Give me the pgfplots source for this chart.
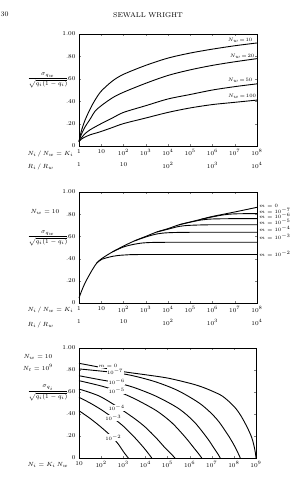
\documentclass[border=0pt]{standalone}
\usepackage{amsmath}
\usepackage{pgfplots}
\pgfplotsset{compat=1.18}
\pgfplotsset{every axis/.append style={
  scale only axis, ymin=0, ymax=1,
  ytick={0,0.2,0.4,0.6,0.8,1}, yticklabels={0,.20,.40,.60,.80,1.00},
  xminorticks=false, major tick length=2bp, 
  tick label style={font=\fontsize{6}{7}\selectfont},
  axis line style={line width=0.8pt},
  cycle list={{black,solid,no markers}},
  clip=false},
  every axis plot post/.append style={line width=0.9pt, smooth, tension=0.5}
}
\begin{document}
\begin{tikzpicture}
\useasboundingbox (0,0) rectangle (297bp,-480bp);
\begin{scope}[x=1bp,y=-1bp]
\node[anchor=west,font=\fontsize{7}{8}\selectfont,inner sep=0.5pt] at (0,14) {30};
\node[font=\fontsize{7}{8}\selectfont] at (148,15) {SEWALL WRIGHT};
\node[font=\fontsize{6.5}{7.5}\selectfont] at (48,80) {$\dfrac{\sigma_{q_w}}{\sqrt{q_i(1-q_i)}}$};
\node[anchor=west,font=\fontsize{6}{7}\selectfont] at (24,154) {$N_i\,/\,N_w = K_i$};
\node[anchor=west,font=\fontsize{6}{7}\selectfont] at (24,167) {$R_i\,/\,R_w$};
\node[font=\fontsize{6}{7}\selectfont] at (45,212) {$N_w = 10$};
\node[font=\fontsize{6.5}{7.5}\selectfont] at (48,238) {$\dfrac{\sigma_{q_w}}{\sqrt{q_i(1-q_i)}}$};
\node[anchor=west,font=\fontsize{6}{7}\selectfont] at (24,310) {$N_i\,/\,N_w = K_i$};
\node[anchor=west,font=\fontsize{6}{7}\selectfont] at (24,325) {$R_i\,/\,R_w$};
\node[font=\fontsize{6}{7}\selectfont] at (38,357) {$N_w = 10$};
\node[font=\fontsize{6}{7}\selectfont] at (38,368) {$N_t = 10^9$};
\node[font=\fontsize{6.5}{7.5}\selectfont] at (48,393) {$\dfrac{\sigma_{q_i}}{\sqrt{q_i(1-q_i)}}$};
\node[anchor=west,font=\fontsize{6}{7}\selectfont] at (24,465) {$N_i = K_i\,N_w$};
\end{scope}
% ---------------- Panel 1
\begin{axis}[xmode=log, at={(79bp,-146bp)}, anchor=south west, width=178bp, height=112bp,
  xmin=1, xmax=1e8,
  xtick={1,10,1e2,1e3,1e4,1e5,1e6,1e7,1e8},
  xticklabels={1,10,$10^2$,$10^3$,$10^4$,$10^5$,$10^6$,$10^7$,$10^8$},
  extra x ticks={1,1e2,1e4,1e6,1e8},
  extra x tick labels={1,10,$10^2$,$10^3$,$10^4$},
  extra x tick style={major tick length=0pt, xticklabel style={yshift=-13bp}}]
\addplot coordinates {(1,0.04)(1.259,0.13)(1.862,0.23)(3.162,0.33)(5.248,0.41)(10,0.49)(31.62,0.58)(100,0.64)(1e3,0.72)(1e4,0.785)(1e5,0.83)(1e6,0.865)(1e7,0.895)(1e8,0.92)};
\addplot coordinates {(1,0.04)(1.259,0.10)(1.862,0.17)(3.162,0.24)(5.248,0.31)(10,0.36)(31.62,0.43)(100,0.48)(1e3,0.56)(1e4,0.63)(1e5,0.68)(1e6,0.72)(1e7,0.752)(1e8,0.78)};
\addplot coordinates {(1,0.04)(1.259,0.07)(1.862,0.11)(3.162,0.145)(5.248,0.17)(10,0.20)(31.62,0.25)(100,0.30)(1e3,0.36)(1e4,0.42)(1e5,0.46)(1e6,0.50)(1e7,0.53)(1e8,0.555)};
\addplot coordinates {(1,0.04)(1.259,0.06)(1.862,0.08)(3.162,0.10)(5.248,0.113)(10,0.13)(31.62,0.165)(100,0.20)(1e3,0.25)(1e4,0.30)(1e5,0.34)(1e6,0.37)(1e7,0.39)(1e8,0.41)};
\node[font=\fontsize{5}{6}\selectfont] at (axis cs:1.74e7,0.945) {$N_w\!=\!10$};
\node[font=\fontsize{5}{6}\selectfont] at (axis cs:2.14e7,0.805) {$N_w\!=\!20$};
\node[font=\fontsize{5}{6}\selectfont] at (axis cs:1.74e7,0.585) {$N_w\!=\!50$};
\node[font=\fontsize{5}{6}\selectfont] at (axis cs:2.14e7,0.445) {$N_w\!=\!100$};
\end{axis}
% ---------------- Panel 2
\begin{axis}[xmode=log, at={(79bp,-303bp)}, anchor=south west, width=178bp, height=111bp,
  xmin=1, xmax=1e8,
  xtick={1,10,1e2,1e3,1e4,1e5,1e6,1e7,1e8},
  xticklabels={1,10,$10^2$,$10^3$,$10^4$,$10^5$,$10^6$,$10^7$,$10^8$},
  extra x ticks={1,1e2,1e4,1e6,1e8},
  extra x tick labels={1,10,$10^2$,$10^3$,$10^4$},
  extra x tick style={major tick length=0pt, xticklabel style={yshift=-13bp}}]
\addplot coordinates {(1,0.045)(1.259,0.10)(1.862,0.18)(3.715,0.29)(6.31,0.36)(10.47,0.40)(31.62,0.46)(117.5,0.52)(316.2,0.56)(1e3,0.60)(3162,0.64)(1e4,0.67)(31620,0.705)(1e5,0.73)(316200,0.755)(1e6,0.78)(3.162e6,0.80)(1e7,0.82)(1e8,0.862)};
\addplot coordinates {(316200,0.755)(1e6,0.776)(3.162e6,0.794)(1e7,0.803)(1e8,0.806)};
\addplot coordinates {(31620,0.705)(1e5,0.728)(316200,0.748)(1e6,0.757)(1e7,0.76)(1e8,0.76)};
\addplot coordinates {(3162,0.64)(1e4,0.665)(31620,0.69)(1e5,0.70)(1e6,0.705)(1e8,0.705)};
\addplot coordinates {(316.2,0.56)(1e3,0.595)(3162,0.622)(1e4,0.633)(1e5,0.637)(1e8,0.637)};
\addplot coordinates {(31.62,0.46)(100,0.505)(316.2,0.53)(1e3,0.543)(1e4,0.547)(1e8,0.547)};
\addplot coordinates {(6.31,0.36)(10.47,0.393)(31.62,0.42)(100,0.432)(1e3,0.437)(1e8,0.437)};
\node[font=\fontsize{5}{6}\selectfont, anchor=west, xshift=2bp, inner sep=0pt] at (axis cs:1e8,0.877) {$m = 0$};
\node[font=\fontsize{5}{6}\selectfont, anchor=west, xshift=2bp, inner sep=0pt] at (axis cs:1e8,0.829) {$m = 10^{-7}$};
\node[font=\fontsize{5}{6}\selectfont, anchor=west, xshift=2bp, inner sep=0pt] at (axis cs:1e8,0.784) {$m = 10^{-6}$};
\node[font=\fontsize{5}{6}\selectfont, anchor=west, xshift=2bp, inner sep=0pt] at (axis cs:1e8,0.735) {$m = 10^{-5}$};
\node[font=\fontsize{5}{6}\selectfont, anchor=west, xshift=2bp, inner sep=0pt] at (axis cs:1e8,0.664) {$m = 10^{-4}$};
\node[font=\fontsize{5}{6}\selectfont, anchor=west, xshift=2bp, inner sep=0pt] at (axis cs:1e8,0.592) {$m = 10^{-3}$};
\node[font=\fontsize{5}{6}\selectfont, anchor=west, xshift=2bp, inner sep=0pt] at (axis cs:1e8,0.439) {$m = 10^{-2}$};
\end{axis}
% ---------------- Panel 3
\begin{axis}[xmode=log, at={(79bp,-458bp)}, anchor=south west, width=177bp, height=110bp,
  xmin=10, xmax=1e9,
  xtick={10,1e2,1e3,1e4,1e5,1e6,1e7,1e8,1e9},
  xticklabels={10,$10^2$,$10^3$,$10^4$,$10^5$,$10^6$,$10^7$,$10^8$,$10^9$}]
\addplot coordinates {(10,0.861)(100,0.823)(1e3,0.785)(1e4,0.757)(1e5,0.727)(1e6,0.68)(3.162e6,0.65)(1e7,0.61)(3.162e7,0.56)(1e8,0.47)(1.995e8,0.39)(3.981e8,0.28)(6.31e8,0.19)(7.943e8,0.12)(9.333e8,0.05)(1e9,0)};
\addplot coordinates {(10,0.81)(100,0.79)(501.2,0.775)(3162,0.745)(31620,0.69)(316200,0.61)(3.162e6,0.49)(1.585e7,0.36)(5.012e7,0.22)(1e8,0.12)(1.585e8,0.04)(1.95e8,0)};
\addplot coordinates {(10,0.748)(100,0.71)(501.2,0.685)(3162,0.64)(31620,0.56)(316200,0.45)(1.585e6,0.33)(6.31e6,0.18)(1.259e7,0.09)(1.995e7,0.03)(2.399e7,0)};
\addplot coordinates {(10,0.703)(100,0.655)(501.2,0.61)(3162,0.54)(31620,0.43)(158500,0.32)(631000,0.19)(1.585e6,0.09)(2.512e6,0.04)(3.548e6,0)};
\addplot coordinates {(10,0.627)(31.62,0.595)(100,0.555)(501.2,0.47)(3162,0.36)(1e4,0.28)(31620,0.18)(79430,0.09)(141300,0.04)(218800,0)};
\addplot coordinates {(10,0.552)(31.62,0.50)(100,0.44)(316.2,0.37)(1e3,0.29)(3162,0.19)(7943,0.10)(12590,0.05)(19500,0)};
\addplot coordinates {(10,0.43)(31.62,0.36)(100,0.28)(316.2,0.19)(631,0.12)(1e3,0.06)(1413,0.02)(1698,0)};
\node[font=\fontsize{5}{6}\selectfont, fill=white, inner sep=0.5pt] at (axis cs:204,0.835) {$m = 0$};
\node[font=\fontsize{5}{6}\selectfont, fill=white, inner sep=0.5pt] at (axis cs:427,0.785) {$10^{-7}$};
\node[font=\fontsize{5}{6}\selectfont, fill=white, inner sep=0.5pt] at (axis cs:501,0.694) {$10^{-6}$};
\node[font=\fontsize{5}{6}\selectfont, fill=white, inner sep=0.5pt] at (axis cs:501,0.609) {$10^{-5}$};
\node[font=\fontsize{5}{6}\selectfont, fill=white, inner sep=0.5pt] at (axis cs:501,0.457) {$10^{-4}$};
\node[font=\fontsize{5}{6}\selectfont, fill=white, inner sep=0.5pt] at (axis cs:355,0.361) {$10^{-3}$};
\node[font=\fontsize{5}{6}\selectfont, fill=white, inner sep=0.5pt] at (axis cs:355,0.185) {$10^{-2}$};
\end{axis}
\end{tikzpicture}
\end{document}
